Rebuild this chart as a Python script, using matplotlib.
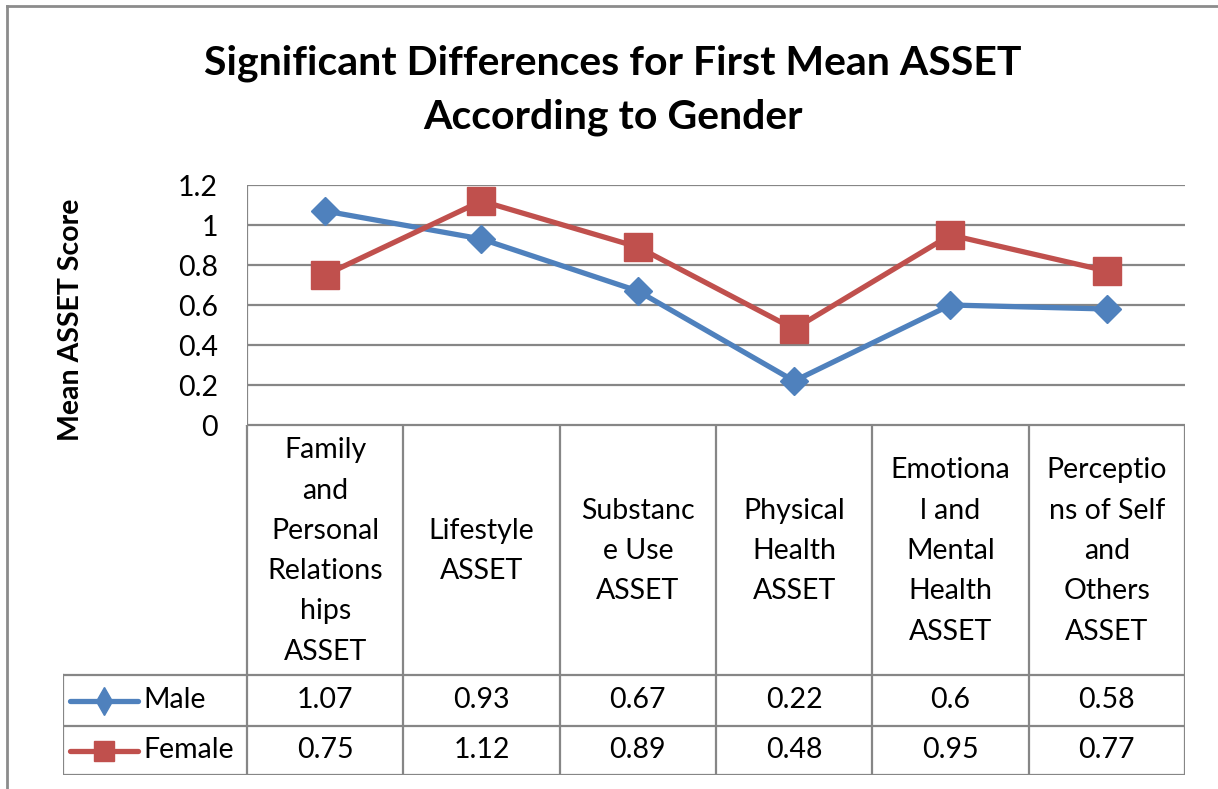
import matplotlib.pyplot as plt
from matplotlib.lines import Line2D

plt.rcParams['font.family'] = ['Lato', 'DejaVu Sans']

# data
categories = ["Family\nand\nPersonal\nRelations\nhips\nASSET",
              "Lifestyle\nASSET",
              "Substanc\ne Use\nASSET",
              "Physical\nHealth\nASSET",
              "Emotiona\nl and\nMental\nHealth\nASSET",
              "Perceptio\nns of Self\nand\nOthers\nASSET"]
male = [1.07, 0.93, 0.67, 0.22, 0.6, 0.58]
female = [0.75, 1.12, 0.89, 0.48, 0.95, 0.77]
series_names = ["Male", "Female"]
yticks = [0, 0.2, 0.4, 0.6, 0.8, 1, 1.2]

blue = "#4F81BD"
red = "#C0504D"
grid_c = "#868686"

W, H = 1218, 789
fig = plt.figure(figsize=(W / 100, H / 100), dpi=100)


def fx(p):
    return p / W


def fy(p):
    return 1 - p / H


# pixel layout
pl, pr, pt, pb = 247, 1185, 185, 425
tl, tb = 63, 775
row1, row2 = 675, 726
fs = 20.5

ax = fig.add_axes([fx(pl), fy(pb), fx(pr - pl), fy(pt) - fy(pb)])
x = list(range(len(categories)))
ax.plot(x, male, color=blue, lw=3.8, marker='D', ms=14, mec=blue, zorder=3)
ax.plot(x, female, color=red, lw=3.8, marker='s', ms=19.5, mec=red, zorder=3)
ax.set_xlim(-0.5, len(categories) - 0.5)
ax.set_ylim(0, 1.2)
ax.set_yticks(yticks)
ax.set_yticklabels([f"{v:g}" for v in yticks], fontsize=fs)
ax.set_xticks([])
ax.tick_params(axis='y', length=0, pad=21)
for v in yticks:
    ax.axhline(v, color=grid_c, lw=1.6, zorder=1)
for s in ax.spines.values():
    s.set_visible(False)
ax.axvline(-0.5, color=grid_c, lw=1.6)
ax.set_ylabel("Mean ASSET Score", fontsize=20.5, fontweight='bold')
ax.yaxis.set_label_coords((84 - pl) / (pr - pl), (pb - 320) / (pb - pt))

# data table below the plot
colw = (pr - pl) / len(categories)
legw = (pl - tl) / colw
tax = fig.add_axes([fx(tl), fy(tb), fx(pr - tl), fy(pb) - fy(tb)])
tax.set_xlim(-0.5 - legw, len(categories) - 0.5)
tax.set_ylim(tb, pb)
tax.axis('off')
lk = dict(color=grid_c, lw=1.6)
tax.plot([-0.5, len(categories) - 0.5], [pb, pb], **lk)
for i in range(len(categories) + 1):
    tax.plot([i - 0.5, i - 0.5], [pb, tb], **lk)
for yy in [row1, row2, tb]:
    tax.plot([-0.5 - legw, len(categories) - 0.5], [yy, yy], **lk)
tax.plot([-0.5 - legw] * 2, [row1, tb], **lk)

for i, c in enumerate(categories):
    tax.text(i, (pb + row1) / 2 + 1, c, ha='center', va='center', fontsize=fs,
             linespacing=1.68)

rows = [(male, blue, 'd', 14), (female, red, 's', 15)]
for (vals, col, mk, ms), name, (y0, y1) in zip(rows, series_names,
                                                [(row1, row2), (row2, tb)]):
    yc = (y0 + y1) / 2
    for i, v in enumerate(vals):
        tax.text(i, yc, f"{v:g}", ha='center', va='center', fontsize=fs)
    lx0 = -0.5 - legw + 7 / colw
    lx1 = -0.5 - legw + 75 / colw
    tax.plot([lx0, lx1], [yc, yc], color=col, lw=3.8, solid_capstyle='round')
    tax.plot([(lx0 + lx1) / 2], [yc], marker=mk, ms=ms, color=col)
    tax.text(lx1 + 5 / colw, yc, name, ha='left', va='center', fontsize=fs)

fig.text(0.503, fy(63), "Significant Differences for First Mean ASSET",
         ha='center', va='center', fontsize=29.5, fontweight='bold')
fig.text(0.503, fy(117), "According to Gender",
         ha='center', va='center', fontsize=29.5, fontweight='bold')

# chart frame (cropped at right and bottom)
fig.add_artist(Line2D([fx(7), fx(7)], [fy(6), 0], color="#8c8c8c", lw=2))
fig.add_artist(Line2D([fx(7), 1], [fy(6), fy(6)], color="#8c8c8c", lw=2))

fig.savefig("out.png", dpi=100)
